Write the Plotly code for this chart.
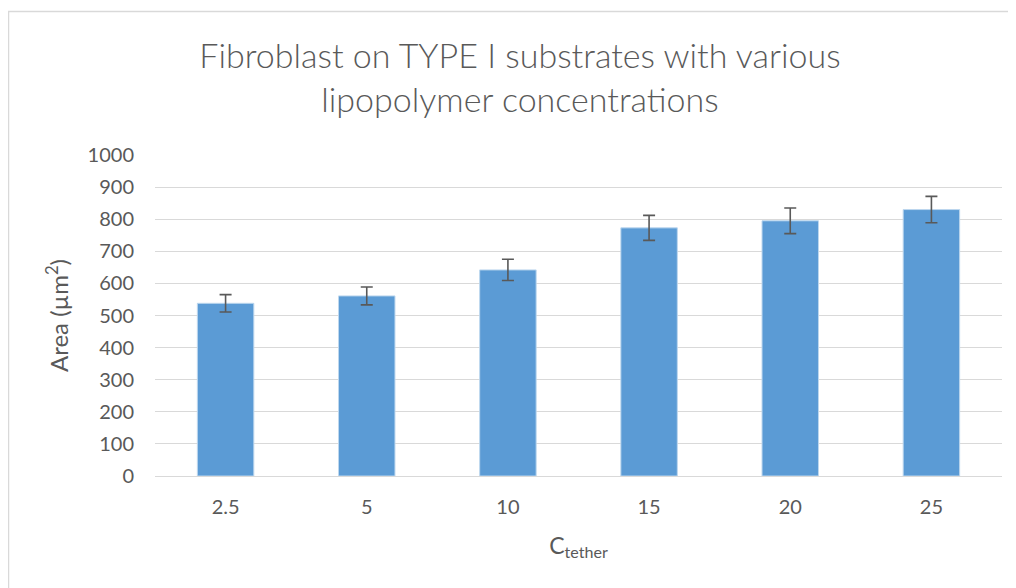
import plotly.graph_objects as go

categories = ["2.5", "5", "10", "15", "20", "25"]
area_values = [538, 561, 642, 773, 795, 830]
area_errors = [27, 28, 33, 39, 40, 41]
y_ticks = [0, 100, 200, 300, 400, 500, 600, 700, 800, 900, 1000]

FONT = "Lato, Carlito, Calibri, sans-serif"
GRAY = "#595959"

# page has an 8px body margin; figure coords = screen coords - 8
fig = go.Figure(
    go.Bar(
        x=categories,
        y=area_values,
        marker=dict(color="#5B9BD5", line=dict(color="#BDD7EE", width=1)),
        error_y=dict(type="data", array=area_errors, visible=True,
                     color=GRAY, thickness=1.6, width=6),
    )
)

PL, PR, PT, PB = 147, 994, 147, 468  # plot box in figure coords
W, H = 1008, 580
fig.update_layout(
    width=W, height=H,
    margin=dict(l=PL, r=W - PR, t=PT, b=H - PB),
    paper_bgcolor="white", plot_bgcolor="white",
    bargap=0.6,
    showlegend=False,
    font=dict(family=FONT, color=GRAY, size=21),
    title=dict(
        text="Fibroblast on TYPE I substrates with various<br>lipopolymer concentrations",
        x=(520 - 8) / W, xanchor="center",
        y=1 - 60 / H, yanchor="middle",
        font=dict(family=FONT, size=34, color=GRAY, weight=300),
    ),
    xaxis=dict(
        type="category",
        showgrid=False,
        showline=True, linecolor="#D9D9D9", linewidth=1,
        ticks="", ticklabelstandoff=13,
        tickfont=dict(size=20, color=GRAY),
        title=dict(text="C<sub>tether</sub>", font=dict(size=23, color=GRAY), standoff=20),
    ),
    yaxis=dict(
        range=[0, 1000],
        tickvals=y_ticks,
        showgrid=True, gridcolor="#D9D9D9", gridwidth=1,
        zeroline=False, showline=False,
        ticks="", ticklabelstandoff=20,
        tickfont=dict(size=20, color=GRAY),
        title=dict(text="Area (µm<sup>2</sup>)", font=dict(size=24, color=GRAY), standoff=12),
    ),
    shapes=[
        dict(type="rect", xref="paper", yref="paper",
             x0=(0.5 - PL) / (PR - PL), x1=(1030 - PL) / (PR - PL),
             y0=(PB - 600) / (PB - PT), y1=(PB - 3.5) / (PB - PT),
             line=dict(color="#D9D9D9", width=1.5), fillcolor="rgba(0,0,0,0)", layer="below"),
    ],
)

fig.write_html("out.html")
